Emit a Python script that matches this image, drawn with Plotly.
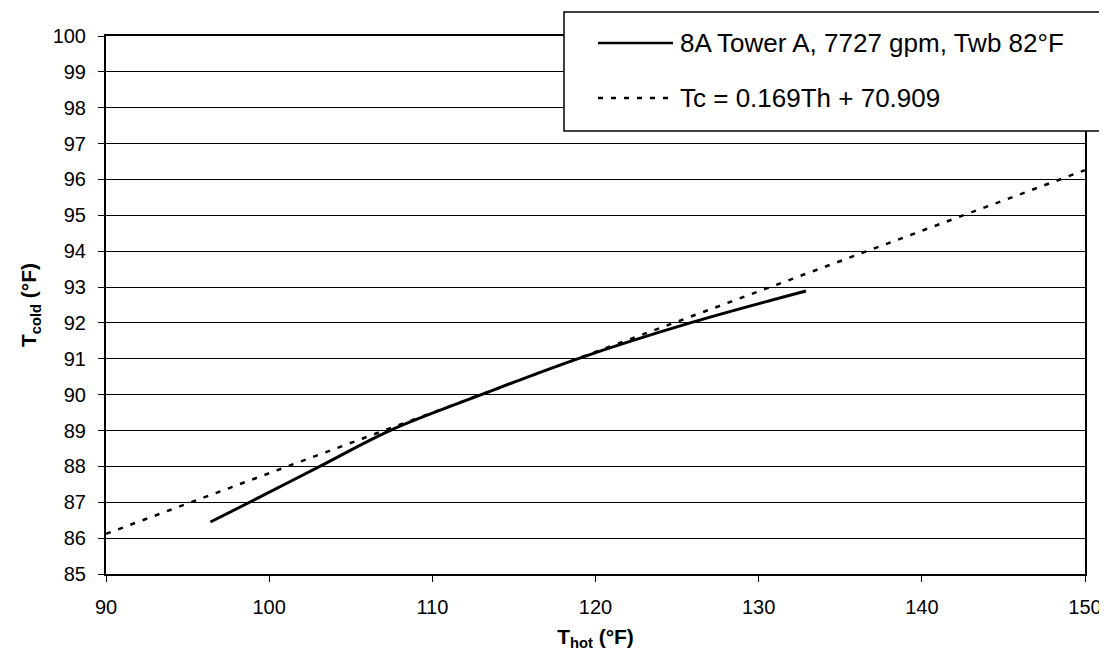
import plotly.graph_objects as go

t_hot = [96.4, 98.8, 103.1, 107.4, 113.0, 118.9, 125.8, 132.9]
t_cold = [86.45, 87.0, 88.0, 89.0, 90.0, 91.0, 92.0, 92.89]

# Linear trendline endpoints (Tc = 0.169Th + 70.909)
trend_hot = [90, 150]
trend_cold = [86.12, 96.26]

series_name = "8A Tower A, 7727 gpm, Twb 82°F"
trend_name = "Tc = 0.169Th + 70.909"

x_ticks = [90, 100, 110, 120, 130, 140, 150]
y_ticks = list(range(85, 101))

W, H = 1107, 653
L, R, T, B = 98, 30, 28, 87
pw, ph = W - L - R, H - T - B


def px(x):
    return (x - L) / pw


def py(y):
    return (H - B - y) / ph


FONT = "Liberation Sans, Arial, sans-serif"

fig = go.Figure()
fig.add_trace(go.Scatter(x=trend_hot, y=trend_cold, mode="lines", name=trend_name,
                         line=dict(color="black", width=2.5, dash="5px,8px"), showlegend=False))
fig.add_trace(go.Scatter(x=t_hot, y=t_cold, mode="lines", name=series_name,
                         line=dict(color="black", width=3, shape="spline"), showlegend=False))

# legend box drawn manually
shapes = [
    dict(type="rect", xref="paper", yref="paper", x0=px(556), x1=px(1099), y0=py(123), y1=py(4),
         line=dict(color="black", width=1.5), fillcolor="white", layer="above"),
    dict(type="line", xref="paper", yref="paper", x0=px(590), x1=px(665), y0=py(35), y1=py(35),
         line=dict(color="black", width=2.5), layer="above"),
    dict(type="line", xref="paper", yref="paper", x0=px(590), x1=px(665), y0=py(90), y1=py(90),
         line=dict(color="black", width=2.5, dash="5px,8px"), layer="above"),
]
annotations = [
    dict(xref="paper", yref="paper", x=px(670), y=py(35), text=series_name, showarrow=False,
         xanchor="left", yanchor="middle", font=dict(family=FONT, size=26, color="black")),
    dict(xref="paper", yref="paper", x=px(670), y=py(90), text=trend_name, showarrow=False,
         xanchor="left", yanchor="middle", font=dict(family=FONT, size=26, color="black")),
]

fig.update_layout(
    width=W, height=H,
    margin=dict(l=L, r=R, t=T, b=B),
    paper_bgcolor="white", plot_bgcolor="white",
    font=dict(family=FONT, color="black", size=20),
    shapes=shapes, annotations=annotations,
    xaxis=dict(range=[90, 150], tickvals=x_ticks, showgrid=False, zeroline=False,
               showline=True, linecolor="black", linewidth=2, mirror=True,
               ticks="outside", ticklen=6, tickwidth=1, tickcolor="black",
               ticklabelstandoff=8, tickfont=dict(size=20),
               title=dict(text="<b>T<sub>hot</sub> (°F)</b>", font=dict(size=21), standoff=12)),
    yaxis=dict(range=[85, 100], tickvals=y_ticks, showgrid=True, gridcolor="black", gridwidth=1,
               zeroline=False, showline=True, linecolor="black", linewidth=2, mirror=True,
               ticks="outside", ticklen=6, tickwidth=1, tickcolor="black",
               ticklabelstandoff=8, tickfont=dict(size=20),
               title=dict(text="<b>T<sub>cold</sub> (°F)</b>", font=dict(size=21), standoff=10)),
)

fig.write_html("out.html")
